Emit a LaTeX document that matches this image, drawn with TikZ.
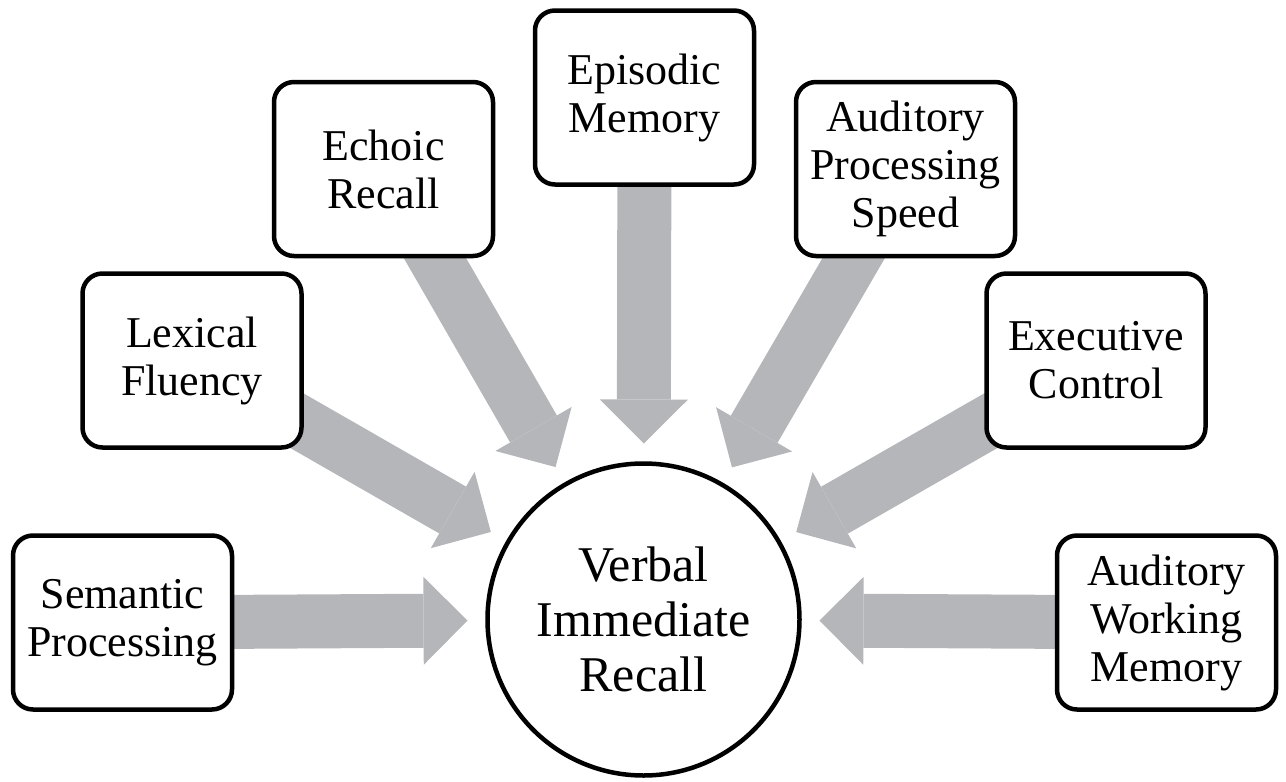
\documentclass[tikz,border=0pt]{standalone}
\usepackage{fontspec}
\setmainfont{Liberation Serif}
\usetikzlibrary{arrows.meta}
\pgfdeclarelayer{background}
\pgfsetlayers{background,main}
\definecolor{arrowgray}{RGB}{180,182,185}
\tikzset{
  factor/.style={draw=black, fill=white, line width=4.5pt, rounded corners=20pt,
    minimum width=219pt, minimum height=174pt, align=center, inner sep=0pt,
    font=\fontsize{44}{48}\selectfont},
  centre/.style={draw=black, fill=white, circle, line width=4.5pt, minimum size=312pt,
    outer sep=0pt, inner sep=0pt, align=center, font=\fontsize{50}{55}\selectfont},
  fat/.style={draw=arrowgray, line width=54pt, shorten >=20pt,
    -{Triangle[width=88pt,length=44pt,line width=0pt]}}
}
\begin{document}
\begin{tikzpicture}[x=1pt,y=-1pt]
\useasboundingbox (0,0) rectangle (1286,782);
\node[centre] (v) at (643.5,619.5) {Verbal\\Immediate\\Recall};
\node[factor] (sem) at (122.5,622.5) {Semantic\\Processing};
\node[factor] (lex) at (192,360.5) {Lexical\\Fluency};
\node[factor] (echo) at (383.5,169) {Echoic\\Recall};
\node[factor] (epi) at (644.5,97.5) {Episodic\\Memory};
\node[factor] (aps) at (905.5,169) {Auditory\\Processing\\Speed};
\node[factor] (exe) at (1096,360.5) {Executive\\Control};
\node[factor] (awm) at (1166.5,622.5) {Auditory\\Working\\Memory};
\begin{pgfonlayer}{background}
\foreach \n in {sem,lex,echo,epi,aps,exe,awm}
  \draw[fat] (\n.center) -- (v);
\end{pgfonlayer}
\end{tikzpicture}
\end{document}
